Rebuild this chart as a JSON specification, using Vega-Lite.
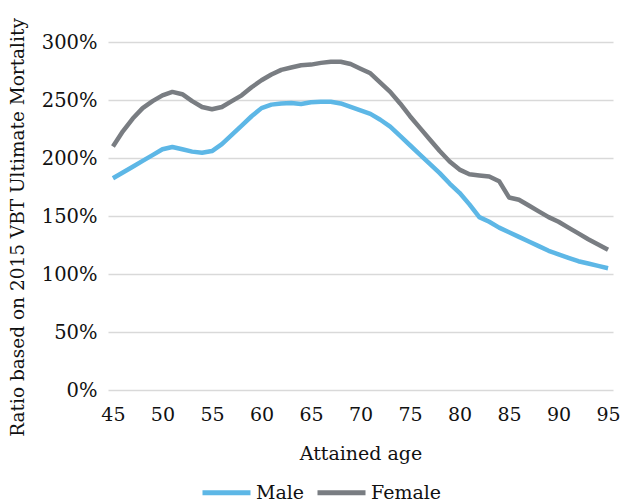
{
  "$schema": "https://vega.github.io/schema/vega-lite/v6.json",
  "width": 505,
  "height": 348,
  "autosize": {"type": "none"},
  "padding": {"left": 108, "top": 42, "right": 9, "bottom": 114},
  "background": "white",
  "config": {"view": {"stroke": null}, "font": "DejaVu Serif"},
  "data": {
    "values": [
      {"age":45,"sex":"Male","ratio":182.5},{"age":46,"sex":"Male","ratio":187.5},{"age":47,"sex":"Male","ratio":192.5},{"age":48,"sex":"Male","ratio":197.5},{"age":49,"sex":"Male","ratio":202.5},{"age":50,"sex":"Male","ratio":207.5},{"age":51,"sex":"Male","ratio":209.5},{"age":52,"sex":"Male","ratio":207.5},{"age":53,"sex":"Male","ratio":205.5},{"age":54,"sex":"Male","ratio":204.5},{"age":55,"sex":"Male","ratio":206},{"age":56,"sex":"Male","ratio":212},{"age":57,"sex":"Male","ratio":220},{"age":58,"sex":"Male","ratio":228},{"age":59,"sex":"Male","ratio":236},{"age":60,"sex":"Male","ratio":243},{"age":61,"sex":"Male","ratio":246},{"age":62,"sex":"Male","ratio":247},{"age":63,"sex":"Male","ratio":247.5},{"age":64,"sex":"Male","ratio":246.5},{"age":65,"sex":"Male","ratio":248},{"age":66,"sex":"Male","ratio":248.5},{"age":67,"sex":"Male","ratio":248.5},{"age":68,"sex":"Male","ratio":247},{"age":69,"sex":"Male","ratio":244},{"age":70,"sex":"Male","ratio":241},{"age":71,"sex":"Male","ratio":238},{"age":72,"sex":"Male","ratio":233},{"age":73,"sex":"Male","ratio":227},{"age":74,"sex":"Male","ratio":219},{"age":75,"sex":"Male","ratio":211},{"age":76,"sex":"Male","ratio":203},{"age":77,"sex":"Male","ratio":195},{"age":78,"sex":"Male","ratio":187},{"age":79,"sex":"Male","ratio":178},{"age":80,"sex":"Male","ratio":170},{"age":81,"sex":"Male","ratio":160},{"age":82,"sex":"Male","ratio":149},{"age":83,"sex":"Male","ratio":145},{"age":84,"sex":"Male","ratio":140},{"age":85,"sex":"Male","ratio":136},{"age":86,"sex":"Male","ratio":132},{"age":87,"sex":"Male","ratio":128},{"age":88,"sex":"Male","ratio":124},{"age":89,"sex":"Male","ratio":120},{"age":90,"sex":"Male","ratio":117},{"age":91,"sex":"Male","ratio":114},{"age":92,"sex":"Male","ratio":111},{"age":93,"sex":"Male","ratio":109},{"age":94,"sex":"Male","ratio":107},{"age":95,"sex":"Male","ratio":105},
      {"age":45,"sex":"Female","ratio":210},{"age":46,"sex":"Female","ratio":223},{"age":47,"sex":"Female","ratio":234},{"age":48,"sex":"Female","ratio":243},{"age":49,"sex":"Female","ratio":249},{"age":50,"sex":"Female","ratio":254},{"age":51,"sex":"Female","ratio":257},{"age":52,"sex":"Female","ratio":255},{"age":53,"sex":"Female","ratio":249},{"age":54,"sex":"Female","ratio":244},{"age":55,"sex":"Female","ratio":242},{"age":56,"sex":"Female","ratio":244},{"age":57,"sex":"Female","ratio":249},{"age":58,"sex":"Female","ratio":254},{"age":59,"sex":"Female","ratio":261},{"age":60,"sex":"Female","ratio":267},{"age":61,"sex":"Female","ratio":272},{"age":62,"sex":"Female","ratio":276},{"age":63,"sex":"Female","ratio":278},{"age":64,"sex":"Female","ratio":280},{"age":65,"sex":"Female","ratio":280.5},{"age":66,"sex":"Female","ratio":282},{"age":67,"sex":"Female","ratio":283},{"age":68,"sex":"Female","ratio":283},{"age":69,"sex":"Female","ratio":281},{"age":70,"sex":"Female","ratio":277},{"age":71,"sex":"Female","ratio":273},{"age":72,"sex":"Female","ratio":265},{"age":73,"sex":"Female","ratio":257},{"age":74,"sex":"Female","ratio":247},{"age":75,"sex":"Female","ratio":236},{"age":76,"sex":"Female","ratio":226},{"age":77,"sex":"Female","ratio":216},{"age":78,"sex":"Female","ratio":206},{"age":79,"sex":"Female","ratio":197},{"age":80,"sex":"Female","ratio":190},{"age":81,"sex":"Female","ratio":186},{"age":82,"sex":"Female","ratio":185},{"age":83,"sex":"Female","ratio":184},{"age":84,"sex":"Female","ratio":180},{"age":85,"sex":"Female","ratio":166},{"age":86,"sex":"Female","ratio":164},{"age":87,"sex":"Female","ratio":159},{"age":88,"sex":"Female","ratio":154},{"age":89,"sex":"Female","ratio":149},{"age":90,"sex":"Female","ratio":145},{"age":91,"sex":"Female","ratio":140},{"age":92,"sex":"Female","ratio":135},{"age":93,"sex":"Female","ratio":130},{"age":94,"sex":"Female","ratio":125.5},{"age":95,"sex":"Female","ratio":121}
    ]
  },
  "mark": {"type": "line", "strokeWidth": 4.5, "strokeJoin": "round"},
  "encoding": {
    "x": {
      "field": "age",
      "type": "quantitative",
      "scale": {"domain": [44.5, 95.5], "nice": false, "zero": false},
      "axis": {
        "values": [45,50,55,60,65,70,75,80,85,90,95],
        "grid": false,
        "ticks": false,
        "domain": false,
        "labelFontSize": 19,
        "labelColor": "#111",
        "labelPadding": 15,
        "title": "Attained age",
        "titleFontSize": 19,
        "titleFontWeight": "normal",
        "titleColor": "#111",
        "titlePadding": 20
      }
    },
    "y": {
      "field": "ratio",
      "type": "quantitative",
      "scale": {"domain": [0, 300], "nice": false},
      "axis": {
        "values": [0,50,100,150,200,250,300],
        "labelExpr": "datum.value + '%'",
        "grid": true,
        "gridColor": "#d9d9d9",
        "gridWidth": 1.5,
        "ticks": false,
        "domain": false,
        "labelFontSize": 19.5,
        "labelColor": "#111",
        "labelPadding": 11,
        "title": "Ratio based on 2015 VBT Ultimate Mortality",
        "titleFontSize": 18.5,
        "titleFontWeight": "normal",
        "titleColor": "#111",
        "titlePadding": 14,
        "titleY": 185
      }
    },
    "color": {
      "field": "sex",
      "type": "nominal",
      "scale": {"domain": ["Male", "Female"], "range": ["#5DB7E6", "#797D82"]},
      "legend": {
        "title": null,
        "orient": "none",
        "direction": "horizontal",
        "legendX": 92,
        "legendY": 424,
        "symbolType": "stroke",
        "symbolSize": 2304,
        "symbolStrokeWidth": 5,
        "labelFontSize": 19,
        "labelColor": "#111",
        "labelOffset": 3,
        "columnPadding": 2
      }
    }
  }
}
